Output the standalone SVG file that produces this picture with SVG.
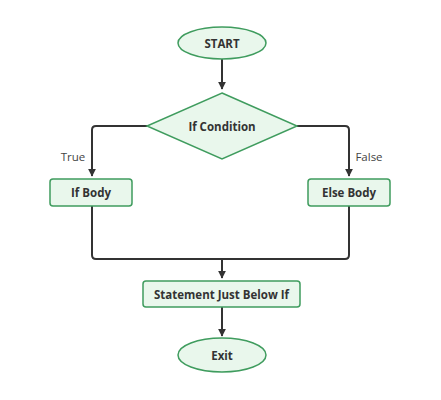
<svg xmlns="http://www.w3.org/2000/svg" width="441" height="400" viewBox="0 0 441 400">
<style>
.n{fill:#e9f7ec;stroke:#3f9c5e;stroke-width:1.5}
.t{font-family:"Open Sans","Liberation Sans",sans-serif;font-size:11.5px;font-weight:bold;fill:#333;text-anchor:middle;dominant-baseline:central}
.l{font-family:"Open Sans","Liberation Sans",sans-serif;font-size:11.5px;fill:#444;text-anchor:middle;dominant-baseline:central}
.c{fill:none;stroke:#333;stroke-width:2;stroke-linejoin:round}
</style>
<defs>
<marker id="a" viewBox="0 0 10 10" refX="9" refY="5" markerWidth="4" markerHeight="4" orient="auto">
<path d="M0,0L10,5L0,10z" fill="#333"/>
</marker>
</defs>
<rect width="441" height="400" fill="#fff"/>
<g id="connectors">
<path class="c" d="M222,59V89" marker-end="url(#a)"/>
<path class="c" d="M147,126H96Q92,126 92,130V176" marker-end="url(#a)"/>
<path class="c" d="M297,126H345Q349,126 349,130V176" marker-end="url(#a)"/>
<path class="c" d="M92,206V255Q92,259 96,259H345Q349,259 349,255V206"/>
<path class="c" d="M222,259V278" marker-end="url(#a)"/>
<path class="c" d="M222,307V336" marker-end="url(#a)"/>
<text class="l" x="73" y="156">True</text>
<text class="l" x="369" y="156">False</text>
</g>
<g id="start"><ellipse class="n" cx="222" cy="43" rx="44" ry="16"/><text class="t" x="222" y="43">START</text></g>
<g id="cond"><path class="n" d="M222,93L297,126L222,159L147,126z"/><text class="t" x="222" y="126">If Condition</text></g>
<g id="ifbody"><rect class="n" x="50" y="179" width="82" height="27" rx="3"/><text class="t" x="91" y="192.5">If Body</text></g>
<g id="elsebody"><rect class="n" x="308" y="179" width="82" height="27" rx="3"/><text class="t" x="349" y="192.5">Else Body</text></g>
<g id="stmt"><rect class="n" x="143" y="281" width="157" height="26" rx="3"/><text class="t" x="221.5" y="294">Statement Just Below If</text></g>
<g id="exit"><ellipse class="n" cx="222" cy="355" rx="44" ry="17"/><text class="t" x="222" y="355">Exit</text></g>
</svg>
